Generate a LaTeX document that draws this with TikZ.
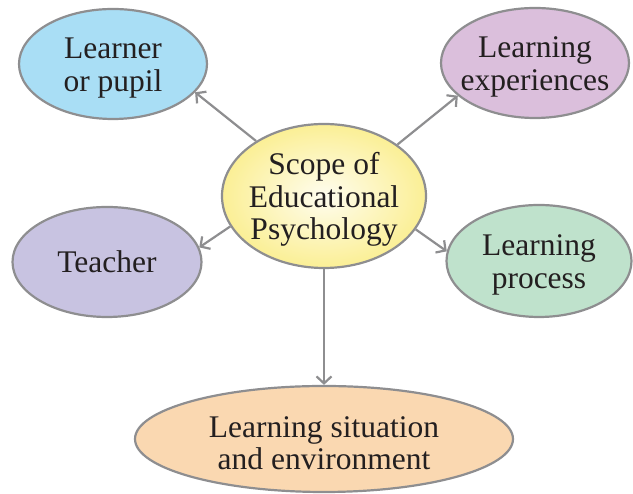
\documentclass[tikz,border=0pt]{standalone}
\usepackage{fontspec}
\setmainfont{Liberation Serif}
\usetikzlibrary{shapes.geometric,arrows.meta}
\definecolor{rim}{HTML}{8E8E90}
\definecolor{ink}{HTML}{231F20}
\definecolor{pupilblue}{HTML}{A9DEF5}
\definecolor{experpink}{HTML}{DBBFDC}
\definecolor{teachlilac}{HTML}{C8C3E1}
\definecolor{procgreen}{HTML}{BFE2CC}
\definecolor{situpeach}{HTML}{FAD8B1}
\definecolor{scopeyellow}{HTML}{FBEF95}
\newcommand{\toppad}{\rule{0pt}{29pt}}
\begin{document}
\begin{tikzpicture}[x=1pt, y=1pt,
    bubble/.style={ellipse, draw=rim, line width=2.2pt, inner xsep=-30pt, inner ysep=0pt, align=center,
        text=ink, font=\fontsize{31.5}{32.5}\selectfont},
    link/.style={draw=rim, line width=2.2pt, arrows={-Straight Barb[length=7pt, width=15pt]}}]
    \useasboundingbox (0,0) rectangle (633,494);

    \node[bubble, shading=radial, inner color=white!85!scopeyellow, outer color=scopeyellow,
        minimum width=204, minimum height=144] (scope) at (324,298) {\toppad Scope of\\Educational\\Psychology};

    \node[bubble, fill=pupilblue, minimum width=188, minimum height=110] (pupil) at (113,430) {\toppad Learner\\or pupil};
    \node[bubble, fill=experpink, minimum width=188, minimum height=110] (exper) at (535,431) {\toppad Learning\\experiences};
    \node[bubble, fill=teachlilac, minimum width=189, minimum height=110] (teacher) at (107,232) {Teacher};
    \node[bubble, fill=procgreen, minimum width=185, minimum height=112] (process) at (539,233) {\toppad Learning\\process};
    \node[bubble, fill=situpeach, minimum width=378, minimum height=106] (situation) at (324,55) {\toppad Learning situation\\and environment};

    \draw[link] (scope.141) -- (pupil.-19);
    \draw[link] (scope.35) -- (exper.203);
    \draw[link] (scope.198) -- (teacher.9);
    \draw[link] (scope.-20) -- (process.174);
    \draw[link] (scope.south) -- (situation.north);

\end{tikzpicture}
\end{document}
